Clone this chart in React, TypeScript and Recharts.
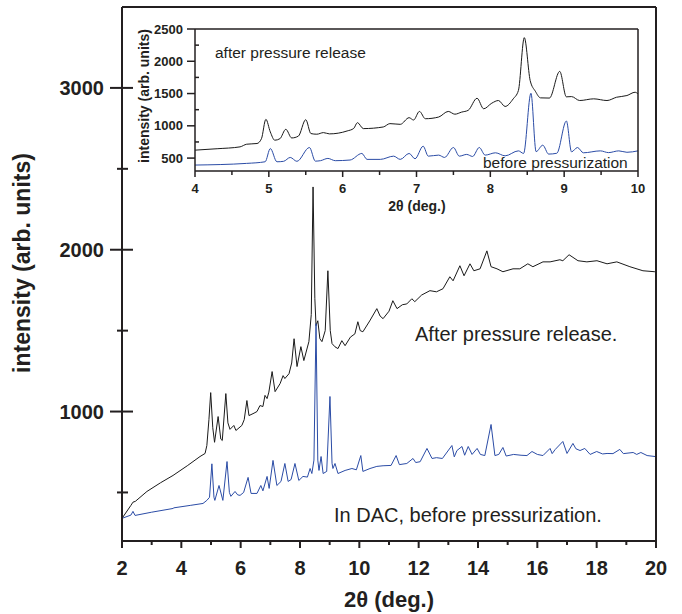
import { LineChart, Line, XAxis, YAxis } from "recharts";

// main panel, after pressure release (black)
const afterX = [
  2.0, 2.3, 2.37, 2.45, 2.84, 3.3, 3.72, 4.2, 4.63, 4.8, 4.86, 4.93, 4.99, 5.06, 5.12, 5.24, 5.33, 5.38, 5.5, 5.57,
  5.64, 5.77, 5.84, 6.04, 6.12, 6.21, 6.28, 6.45, 6.55, 6.65, 6.75, 6.82, 6.89, 6.95, 7.06, 7.16, 7.33, 7.43, 7.49,
  7.63, 7.72, 7.8, 7.9, 8.03, 8.13, 8.3, 8.38, 8.44, 8.5, 8.54, 8.6, 8.67, 8.74, 8.85, 8.94, 9.02, 9.08, 9.18, 9.28,
  9.41, 9.52, 9.7, 9.85, 9.95, 10.03, 10.12, 10.35, 10.59, 10.7, 10.8, 11.0, 11.13, 11.27, 11.45, 11.6, 11.77, 11.87,
  12.1, 12.38, 12.6, 12.82, 13.05, 13.16, 13.39, 13.53, 13.73, 13.86, 14.07, 14.3, 14.44, 14.64, 14.84, 15.18, 15.41,
  15.68, 15.85, 16.19, 16.43, 16.76, 16.86, 17.07, 17.37, 17.67, 18.01, 18.35, 18.68, 19.12, 19.56, 19.96, 20.0,
];
const afterY = [
  340, 420, 440, 445, 506, 560, 605, 665, 722, 741, 790, 950, 1117, 900, 810, 969, 830, 821, 1111, 930,
  890, 914, 883, 914, 950, 1068, 975, 990, 1000, 1037, 1031, 1100, 1080, 1120, 1247, 1123, 1173, 1222, 1204,
  1234, 1300, 1450, 1278, 1401, 1315, 1432, 1600, 2388, 1700, 1531, 1561, 1450, 1432, 1500, 1870, 1500, 1420, 1400, 1389,
  1438, 1407, 1460, 1480, 1555, 1500, 1493, 1560, 1636, 1590, 1574, 1620, 1685, 1636, 1660, 1665, 1697, 1679,
  1720, 1747, 1740, 1759, 1833, 1808, 1901, 1839, 1913, 1870, 1882, 1993, 1895, 1882, 1864, 1882, 1882,
  1913, 1895, 1925, 1925, 1938, 1932, 1969, 1932, 1925, 1932, 1913, 1925, 1895, 1870, 1864, 1862,
];

// main panel, in DAC before pressurization (blue)
const beforeX = [
  2.0, 2.3, 2.37, 2.44, 3.0, 3.72, 3.75, 4.3, 4.73, 4.86, 4.95, 5.03, 5.1, 5.13, 5.27, 5.4, 5.54, 5.62, 5.67, 5.81,
  5.9, 5.98, 6.1, 6.25, 6.35, 6.55, 6.68, 6.75, 6.89, 6.96, 7.09, 7.22, 7.36, 7.49, 7.6, 7.7, 7.83, 7.96, 8.1, 8.25,
  8.34, 8.4, 8.47, 8.54, 8.6, 8.64, 8.71, 8.78, 8.9, 9.01, 9.08, 9.11, 9.18, 9.28, 9.52, 9.75, 9.9, 10.05, 10.12,
  10.36, 10.59, 10.8, 11.07, 11.24, 11.35, 11.6, 11.81, 11.9, 12.05, 12.28, 12.45, 12.6, 12.8, 13.12, 13.2, 13.29,
  13.46, 13.55, 13.67, 13.8, 13.97, 14.08, 14.23, 14.44, 14.57, 14.7, 14.84, 14.95, 15.2, 15.45, 15.65, 15.82, 16.0,
  16.19, 16.43, 16.5, 16.6, 16.86, 17.0, 17.2, 17.3, 17.44, 17.6, 17.78, 18.0, 18.2, 18.35, 18.55, 18.78, 18.9,
  19.23, 19.35, 19.49, 19.7, 19.97,
];
const beforeY = [
  340, 360, 383, 358, 378, 401, 405, 420, 432, 451, 470, 677, 470, 451, 543, 451, 691, 500, 476, 506,
  485, 482, 500, 593, 494, 494, 543, 510, 599, 525, 698, 543, 568, 679, 568, 580, 679, 574, 599, 595,
  648, 617, 700, 1543, 700, 636, 722, 617, 630, 1093, 680, 648, 679, 617, 636, 648, 640, 728, 630,
  648, 661, 665, 667, 728, 672, 679, 710, 685, 690, 772, 710, 715, 710, 790, 720, 759,
  784, 730, 784, 735, 772, 735, 728, 920, 728, 735, 778, 725, 735, 730, 728, 753, 735,
  728, 772, 740, 765, 815, 741, 803, 770, 759, 772, 735, 753, 738, 741, 740, 766, 740,
  747, 735, 747, 728, 722,
];

// inset, 4-10 deg
const insetAfterX = [
  4.0, 4.3, 4.61, 4.7, 4.84, 4.9, 4.96, 5.02, 5.08, 5.15, 5.23, 5.31, 5.4, 5.5, 5.57, 5.65, 5.74, 5.82, 6.06, 6.15,
  6.2, 6.28, 6.55, 6.64, 6.78, 6.9, 6.96, 7.04, 7.12, 7.3, 7.43, 7.52, 7.61, 7.7, 7.82, 7.91, 8.02, 8.11, 8.2, 8.31,
  8.38, 8.46, 8.54, 8.61, 8.68, 8.8, 8.94, 9.03, 9.1, 9.21, 9.4, 9.58, 9.71, 9.85, 9.96, 10.0,
];
const insetAfterY = [
  623, 645, 674, 715, 726, 800, 1100, 905, 777, 800, 946, 812, 840, 1095, 880, 870, 895, 875, 920, 960,
  1049, 957, 982, 1034, 1023, 1126, 1090, 1223, 1110, 1136, 1223, 1180, 1212, 1240, 1427, 1264, 1351, 1392, 1300, 1418,
  1546, 2366, 1700, 1535, 1433, 1430, 1843, 1449, 1453, 1392, 1418, 1392, 1443, 1469, 1520, 1495,
];
const insetBeforeX = [
  4.0, 4.7, 4.95, 5.02, 5.11, 5.2, 5.29, 5.38, 5.55, 5.63, 5.7, 5.8, 5.9, 6.1, 6.26, 6.33, 6.51, 6.69, 6.78, 6.9,
  6.98, 7.09, 7.16, 7.3, 7.38, 7.5, 7.58, 7.68, 7.76, 7.85, 7.93, 8.07, 8.2, 8.38, 8.45, 8.55, 8.62, 8.71, 8.79, 8.9,
  9.03, 9.1, 9.18, 9.26, 9.49, 9.6, 9.74, 9.85, 10.0,
];
const insetBeforeY = [
  392, 418, 443, 648, 443, 450, 510, 450, 664, 453, 460, 495, 460, 470, 572, 480, 480, 530, 480, 572,
  490, 684, 530, 546, 510, 664, 530, 557, 525, 664, 546, 582, 535, 612, 572, 1504, 600, 700, 562, 575,
  1074, 597, 664, 582, 612, 585, 612, 590, 612,
];

const mainXTicks = [2, 3, 4, 5, 6, 7, 8, 9, 10, 11, 12, 13, 14, 15, 16, 17, 18, 19, 20];
const mainXLabels = [2, 4, 6, 8, 10, 12, 14, 16, 18, 20];
const mainYTicks = [500, 1000, 1500, 2000, 2500, 3000];
const mainYLabels = [1000, 2000, 3000];
const insetXTicks = [4, 4.5, 5, 5.5, 6, 6.5, 7, 7.5, 8, 8.5, 9, 9.5, 10];
const insetXLabels = [4, 5, 6, 7, 8, 9, 10];
const insetYTicks = [500, 750, 1000, 1250, 1500, 1750, 2000, 2250, 2500];
const insetYLabels = [500, 1000, 1500, 2000, 2500];

const zip = (xs: number[], ys: number[]) => xs.map((x, i) => ({ x, y: ys[i] }));

const FONT = "'Liberation Sans', Arial, Helvetica, sans-serif";
const INK = "#231f20";
const BLACK = "#1a1a1a";
const BLUE = "#2b4ca6";

type TickOpts = {
  labels: number[];
  major: number;
  minor: number;
  side: "bottom" | "left" | "top" | "right";
  gap?: number;
  size?: number;
  sw: number;
  cross?: number; // left ticks: how far they reach into the plot
};

function makeTick(o: TickOpts) {
  return (props: any) => {
    const { x, y, payload } = props;
    const v = payload.value;
    const isMajor = o.labels.includes(v);
    const len = isMajor ? o.major : o.minor;
    const text = isMajor && o.gap !== undefined;
    if (o.side === "bottom") {
      return (
        <g>
          <line x1={x} x2={x} y1={y} y2={y + len} stroke={INK} strokeWidth={o.sw} />
          {text && (
            <text x={x} y={y + o.gap!} textAnchor="middle" fontFamily={FONT} fontWeight="bold" fontSize={o.size} fill={INK}>
              {v}
            </text>
          )}
        </g>
      );
    }
    if (o.side === "top") {
      return <line x1={x} x2={x} y1={y} y2={y + len} stroke={INK} strokeWidth={o.sw} />;
    }
    if (o.side === "right") {
      return <line x1={x - len} x2={x} y1={y} y2={y} stroke={INK} strokeWidth={o.sw} />;
    }
    // left: major ticks stick out, minor ticks cross (main) or point inward (inset)
    let x1: number;
    let x2: number;
    if (isMajor) {
      x1 = x - len;
      x2 = x + (o.cross ?? 0);
    } else if (o.cross !== undefined) {
      x1 = x - o.minor;
      x2 = x + o.minor + 1;
    } else {
      x1 = x;
      x2 = x + o.minor;
    }
    return (
      <g>
        <line x1={x1} x2={x2} y1={y} y2={y} stroke={INK} strokeWidth={o.sw} />
        {text && (
          <text x={x - o.gap!} y={y + o.size! * 0.36} textAnchor="end" fontFamily={FONT} fontWeight="bold" fontSize={o.size} fill={INK}>
            {v}
          </text>
        )}
      </g>
    );
  };
}

const axisLine = (w: number) => ({ stroke: INK, strokeWidth: w });

function MainChart() {
  return (
    <LineChart width={682} height={614} margin={{ top: 6, right: 25, bottom: 43, left: 62 }}>
      <XAxis
        dataKey="x"
        type="number"
        domain={[2, 20]}
        ticks={mainXTicks}
        interval={0}
        allowDataOverflow
        height={30}
        tickSize={0}
        tickMargin={0}
        axisLine={axisLine(2)}
        tick={makeTick({ labels: mainXLabels, major: 7, minor: 4, side: "bottom", gap: 34, size: 20, sw: 2 })}
      />
      <XAxis
        xAxisId="top"
        orientation="top"
        type="number"
        domain={[2, 20]}
        ticks={mainXTicks}
        interval={0}
        height={1}
        tickSize={0}
        tickMargin={0}
        axisLine={axisLine(2)}
        tick={makeTick({ labels: mainXLabels, major: 10, minor: 6, side: "top", sw: 2 })}
      />
      <YAxis
        type="number"
        domain={[200, 3500]}
        ticks={mainYTicks}
        interval={0}
        allowDataOverflow
        width={60}
        tickSize={0}
        tickMargin={0}
        axisLine={axisLine(2)}
        tick={makeTick({ labels: mainYLabels, major: 12, minor: 5, cross: 11, side: "left", gap: 18, size: 20, sw: 2 })}
      />
      <YAxis
        yAxisId="right"
        orientation="right"
        type="number"
        domain={[200, 3500]}
        ticks={mainYTicks}
        interval={0}
        width={1}
        tickSize={0}
        tickMargin={0}
        axisLine={axisLine(2)}
        tick={makeTick({ labels: mainYLabels, major: 12, minor: 5, side: "right", sw: 2 })}
      />
      <Line data={zip(afterX, afterY)} dataKey="y" type="linear" stroke={BLACK} strokeWidth={1} dot={false} isAnimationActive={false} />
      <Line data={zip(beforeX, beforeY)} dataKey="y" type="linear" stroke={BLUE} strokeWidth={1} dot={false} isAnimationActive={false} />
    </LineChart>
  );
}

function InsetChart() {
  return (
    <LineChart width={520} height={210} margin={{ top: 13, right: 11, bottom: 24, left: 5 }}>
      <XAxis
        dataKey="x"
        type="number"
        domain={[4, 10]}
        ticks={insetXTicks}
        interval={0}
        allowDataOverflow
        height={30}
        tickSize={0}
        tickMargin={0}
        axisLine={axisLine(1.5)}
        tick={makeTick({ labels: insetXLabels, major: 6, minor: 4, side: "bottom", gap: 22, size: 13, sw: 1.5 })}
      />
      <XAxis
        xAxisId="top"
        orientation="top"
        type="number"
        domain={[4, 10]}
        ticks={insetXTicks}
        interval={0}
        height={1}
        tickSize={0}
        tickMargin={0}
        axisLine={axisLine(1.5)}
        tick={makeTick({ labels: insetXLabels, major: 4, minor: 4, side: "top", sw: 1.5 })}
      />
      <YAxis
        type="number"
        domain={[300, 2500]}
        ticks={insetYTicks}
        interval={0}
        allowDataOverflow
        width={60}
        tickSize={0}
        tickMargin={0}
        axisLine={axisLine(1.5)}
        tick={makeTick({ labels: insetYLabels, major: 8, minor: 4, side: "left", gap: 12, size: 13, sw: 1.5 })}
      />
      <YAxis
        yAxisId="right"
        orientation="right"
        type="number"
        domain={[300, 2500]}
        ticks={insetYTicks}
        interval={0}
        width={1}
        tickSize={0}
        tickMargin={0}
        axisLine={axisLine(1.5)}
        tick={makeTick({ labels: insetYLabels, major: 5, minor: 4, side: "right", sw: 1.5 })}
      />
      <Line data={zip(insetAfterX, insetAfterY)} dataKey="y" type="monotone" stroke={BLACK} strokeWidth={1} dot={false} isAnimationActive={false} />
      <Line data={zip(insetBeforeX, insetBeforeY)} dataKey="y" type="monotone" stroke={BLUE} strokeWidth={1} dot={false} isAnimationActive={false} />
    </LineChart>
  );
}

export default function App() {
  return (
    <div style={{ position: "absolute", left: 0, top: 0, width: 682, height: 614, background: "#fff", fontFamily: FONT }}>
      <div style={{ position: "absolute", left: 0, top: 0 }}>
        <MainChart />
      </div>
      <div style={{ position: "absolute", left: 130, top: 15 }}>
        <InsetChart />
      </div>
      <svg width={682} height={614} style={{ position: "absolute", left: 0, top: 0, pointerEvents: "none" }}>
        <g fontFamily={FONT} fill={INK}>
          <text x={30} y={263} transform="rotate(-90 30 263)" textAnchor="middle" fontWeight="bold" fontSize={23}>
            intensity (arb. units)
          </text>
          <text x={389} y={607} textAnchor="middle" fontWeight="bold" fontSize={22}>
            2θ (deg.)
          </text>
          <text x={415} y={341} fontSize={20}>After pressure release.</text>
          <text x={334} y={522} fontSize={20}>In DAC, before pressurization.</text>
          <text x={149} y={96} transform="rotate(-90 149 96)" textAnchor="middle" fontWeight="bold" fontSize={14}>
            intensity (arb. units)
          </text>
          <text x={417} y={211} textAnchor="middle" fontWeight="bold" fontSize={14}>
            2θ (deg.)
          </text>
          <text x={215} y={58} fontSize={15.5}>after pressure release</text>
          <text x={483} y={168} fontSize={15.5}>before pressurization</text>
        </g>
      </svg>
    </div>
  );
}
